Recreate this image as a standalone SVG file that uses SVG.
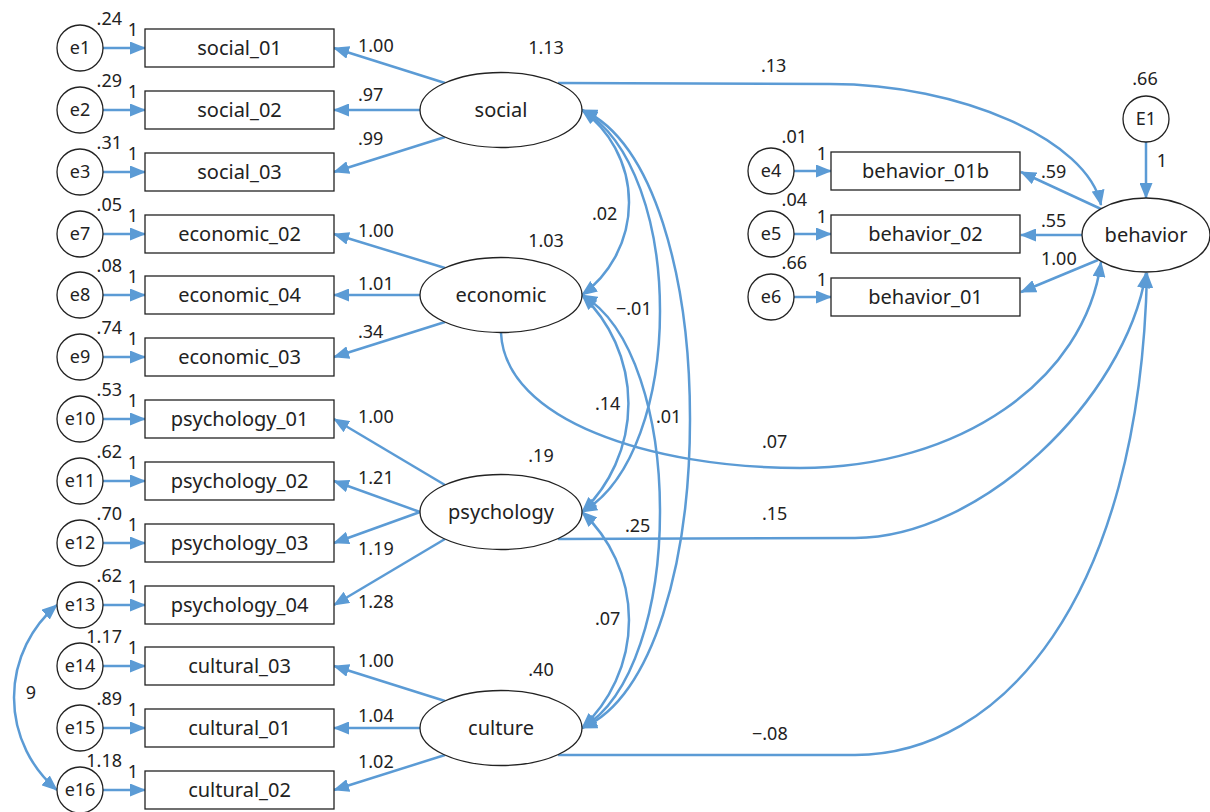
<svg xmlns="http://www.w3.org/2000/svg" width="1210" height="812" viewBox="0 0 1210 812">
<style>
text{font-family:"Noto Sans","Open Sans","Liberation Sans",sans-serif;fill:#222}
.n{font-size:20px;text-anchor:middle}
.c{font-size:18px;text-anchor:middle}
.l{font-size:18px}
.m{text-anchor:middle}
.r{text-anchor:end}
rect.o{fill:#fff;stroke:#222;stroke-width:1.3}
ellipse.v{fill:#fff;stroke:#222;stroke-width:1.3}
circle.v{fill:#fff;stroke:#222;stroke-width:1.3}
#connectors path{fill:none;stroke:#5B9BD5;stroke-width:2.5}
.a{marker-end:url(#ah)}
.d{marker-start:url(#ah);marker-end:url(#ah)}
</style>
<defs>
<marker id="ah" viewBox="0 0 16 13" refX="15" refY="6.5" markerWidth="16" markerHeight="13" markerUnits="userSpaceOnUse" orient="auto-start-reverse"><path d="M0,0 L16,6.5 L0,13 z" fill="#5B9BD5"/></marker>
</defs>
<rect width="1210" height="812" fill="#fff"/>

<g id="connectors">
<path class="a" d="M103,48 L145,48"/>
<path class="a" d="M103,110 L145,110"/>
<path class="a" d="M103,172 L145,172"/>
<path class="a" d="M103,234 L145,234"/>
<path class="a" d="M103,295 L145,295"/>
<path class="a" d="M103,357 L145,357"/>
<path class="a" d="M103,419 L145,419"/>
<path class="a" d="M103,481 L145,481"/>
<path class="a" d="M103,543 L145,543"/>
<path class="a" d="M103,605 L145,605"/>
<path class="a" d="M103,666 L145,666"/>
<path class="a" d="M103,728 L145,728"/>
<path class="a" d="M103,790 L145,790"/>
<path class="a" d="M445,83 L334,48"/>
<path class="a" d="M420,110 L334,110"/>
<path class="a" d="M445,137 L334,172"/>
<path class="a" d="M445,268 L334,234"/>
<path class="a" d="M420,295 L334,295"/>
<path class="a" d="M445,322 L334,357"/>
<path class="a" d="M445,485 L334,419"/>
<path class="a" d="M420,512 L334,481"/>
<path class="a" d="M420,512 L334,543"/>
<path class="a" d="M445,539 L334,605"/>
<path class="a" d="M445,701 L334,666"/>
<path class="a" d="M420,728 L334,728"/>
<path class="a" d="M445,755 L334,790"/>
<path class="d" d="M582,110 A114.5,114.5 0 0 1 582,295"/>
<path class="d" d="M582,110 C686,170 686,452 582,512"/>
<path class="d" d="M582,110 C726,170 726,668 582,728"/>
<path class="d" d="M582,295 A150,150 0 0 1 582,512"/>
<path class="d" d="M582,295 C686,355 686,668 582,728"/>
<path class="d" d="M582,512 A147.6,147.6 0 0 1 582,728"/>
<path class="d" d="M57,605 A121,121 0 0 0 57,790"/>
<path class="a" d="M558,83 L830,84 C960,84 1088,140 1101,205"/>
<path class="a" d="M501,333 C505,420 650,468 800,468 C960,468 1085,380 1101,262"/>
<path class="a" d="M558,539 L855,538 C980,538 1125,400 1146,273"/>
<path class="a" d="M558,755 L855,755 C1000,755 1140,600 1147,273"/>
<path class="a" d="M1146,142 L1146,198"/>
<path class="a" d="M794,171 L831,171"/>
<path class="a" d="M794,234 L831,234"/>
<path class="a" d="M794,297 L831,297"/>
<path class="a" d="M1101,209 L1021,172"/>
<path class="a" d="M1082,235 L1021,235"/>
<path class="a" d="M1098,260 L1021,292"/>
</g>

<g id="labels">
<text class="l" x="358" y="52">1.00</text>
<text class="l" x="358" y="101">.97</text>
<text class="l" x="358" y="145">.99</text>
<text class="l" x="358" y="237">1.00</text>
<text class="l" x="358" y="290">1.01</text>
<text class="l" x="358" y="338">.34</text>
<text class="l" x="358" y="423">1.00</text>
<text class="l" x="358" y="484">1.21</text>
<text class="l" x="358" y="555">1.19</text>
<text class="l" x="358" y="608">1.28</text>
<text class="l" x="358" y="667">1.00</text>
<text class="l" x="358" y="722">1.04</text>
<text class="l" x="358" y="768">1.02</text>
<text class="l" x="592" y="220">.02</text>
<text class="l" x="616" y="315">−.01</text>
<text class="l" x="595" y="410">.14</text>
<text class="l" x="656" y="423">.01</text>
<text class="l" x="625" y="532">.25</text>
<text class="l" x="595" y="625">.07</text>
<text class="l m" x="31" y="699">9</text>
<text class="l" x="761" y="72">.13</text>
<text class="l" x="762" y="448">.07</text>
<text class="l" x="762" y="520">.15</text>
<text class="l" x="752" y="740">−.08</text>
<text class="l" x="1041" y="178">.59</text>
<text class="l" x="1041" y="227">.55</text>
<text class="l" x="1041" y="265">1.00</text>
</g>

<g id="e1"><circle class="v" cx="80" cy="48" r="23"/><text class="c" x="80" y="54">e1</text><text class="l r" x="122" y="25">.24</text><text class="l m" x="133" y="36">1</text></g>
<g id="e2"><circle class="v" cx="80" cy="110" r="23"/><text class="c" x="80" y="116">e2</text><text class="l r" x="122" y="87">.29</text><text class="l m" x="133" y="98">1</text></g>
<g id="e3"><circle class="v" cx="80" cy="172" r="23"/><text class="c" x="80" y="178">e3</text><text class="l r" x="122" y="149">.31</text><text class="l m" x="133" y="160">1</text></g>
<g id="e7"><circle class="v" cx="80" cy="234" r="23"/><text class="c" x="80" y="240">e7</text><text class="l r" x="122" y="211">.05</text><text class="l m" x="133" y="222">1</text></g>
<g id="e8"><circle class="v" cx="80" cy="295" r="23"/><text class="c" x="80" y="301">e8</text><text class="l r" x="122" y="272">.08</text><text class="l m" x="133" y="283">1</text></g>
<g id="e9"><circle class="v" cx="80" cy="357" r="23"/><text class="c" x="80" y="363">e9</text><text class="l r" x="122" y="334">.74</text><text class="l m" x="133" y="345">1</text></g>
<g id="e10"><circle class="v" cx="80" cy="419" r="23"/><text class="c" x="80" y="425">e10</text><text class="l r" x="122" y="396">.53</text><text class="l m" x="133" y="407">1</text></g>
<g id="e11"><circle class="v" cx="80" cy="481" r="23"/><text class="c" x="80" y="487">e11</text><text class="l r" x="122" y="458">.62</text><text class="l m" x="133" y="469">1</text></g>
<g id="e12"><circle class="v" cx="80" cy="543" r="23"/><text class="c" x="80" y="549">e12</text><text class="l r" x="122" y="520">.70</text><text class="l m" x="133" y="531">1</text></g>
<g id="e13"><circle class="v" cx="80" cy="605" r="23"/><text class="c" x="80" y="611">e13</text><text class="l r" x="122" y="582">.62</text><text class="l m" x="133" y="593">1</text></g>
<g id="e14"><circle class="v" cx="80" cy="666" r="23"/><text class="c" x="80" y="672">e14</text><text class="l r" x="122" y="643">1.17</text><text class="l m" x="133" y="654">1</text></g>
<g id="e15"><circle class="v" cx="80" cy="728" r="23"/><text class="c" x="80" y="734">e15</text><text class="l r" x="122" y="705">.89</text><text class="l m" x="133" y="716">1</text></g>
<g id="e16"><circle class="v" cx="80" cy="790" r="23"/><text class="c" x="80" y="796">e16</text><text class="l r" x="122" y="767">1.18</text><text class="l m" x="133" y="778">1</text></g>

<g id="social_01"><rect class="o" x="145" y="29" width="189" height="38"/><text class="n" x="239.5" y="55">social_01</text></g>
<g id="social_02"><rect class="o" x="145" y="91" width="189" height="38"/><text class="n" x="239.5" y="117">social_02</text></g>
<g id="social_03"><rect class="o" x="145" y="153" width="189" height="38"/><text class="n" x="239.5" y="179">social_03</text></g>
<g id="economic_02"><rect class="o" x="145" y="215" width="189" height="38"/><text class="n" x="239.5" y="241">economic_02</text></g>
<g id="economic_04"><rect class="o" x="145" y="276" width="189" height="38"/><text class="n" x="239.5" y="302">economic_04</text></g>
<g id="economic_03"><rect class="o" x="145" y="338" width="189" height="38"/><text class="n" x="239.5" y="364">economic_03</text></g>
<g id="psychology_01"><rect class="o" x="145" y="400" width="189" height="38"/><text class="n" x="239.5" y="426">psychology_01</text></g>
<g id="psychology_02"><rect class="o" x="145" y="462" width="189" height="38"/><text class="n" x="239.5" y="488">psychology_02</text></g>
<g id="psychology_03"><rect class="o" x="145" y="524" width="189" height="38"/><text class="n" x="239.5" y="550">psychology_03</text></g>
<g id="psychology_04"><rect class="o" x="145" y="586" width="189" height="38"/><text class="n" x="239.5" y="612">psychology_04</text></g>
<g id="cultural_03"><rect class="o" x="145" y="647" width="189" height="38"/><text class="n" x="239.5" y="673">cultural_03</text></g>
<g id="cultural_01"><rect class="o" x="145" y="709" width="189" height="38"/><text class="n" x="239.5" y="735">cultural_01</text></g>
<g id="cultural_02"><rect class="o" x="145" y="771" width="189" height="38"/><text class="n" x="239.5" y="797">cultural_02</text></g>

<g id="social"><ellipse class="v" cx="501" cy="110" rx="81" ry="37.5"/><text class="n" x="501" y="117">social</text><text class="l m" x="546" y="54">1.13</text></g>
<g id="economic"><ellipse class="v" cx="501" cy="295" rx="81" ry="37.5"/><text class="n" x="501" y="302">economic</text><text class="l m" x="546" y="247">1.03</text></g>
<g id="psychology"><ellipse class="v" cx="501" cy="512" rx="81" ry="37.5"/><text class="n" x="501" y="519">psychology</text><text class="l m" x="541" y="462">.19</text></g>
<g id="culture"><ellipse class="v" cx="501" cy="728" rx="81" ry="37.5"/><text class="n" x="501" y="735">culture</text><text class="l m" x="541" y="676">.40</text></g>

<g id="e4"><circle class="v" cx="771" cy="171" r="23"/><text class="c" x="771" y="177">e4</text><text class="l r" x="807" y="143">.01</text><text class="l m" x="822" y="160">1</text></g>
<g id="e5"><circle class="v" cx="771" cy="234" r="23"/><text class="c" x="771" y="240">e5</text><text class="l r" x="807" y="206">.04</text><text class="l m" x="822" y="223">1</text></g>
<g id="e6"><circle class="v" cx="771" cy="297" r="23"/><text class="c" x="771" y="303">e6</text><text class="l r" x="807" y="269">.66</text><text class="l m" x="822" y="286">1</text></g>
<g id="behavior_01b"><rect class="o" x="831" y="152" width="189" height="38"/><text class="n" x="925.5" y="178">behavior_01b</text></g>
<g id="behavior_02"><rect class="o" x="831" y="215" width="189" height="38"/><text class="n" x="925.5" y="241">behavior_02</text></g>
<g id="behavior_01"><rect class="o" x="831" y="278" width="189" height="38"/><text class="n" x="925.5" y="304">behavior_01</text></g>
<g id="E1"><circle class="v" cx="1146" cy="119" r="23"/><text class="c" x="1146" y="125">E1</text><text class="l m" x="1145" y="85">.66</text><text class="l m" x="1162" y="167">1</text></g>
<g id="behavior"><ellipse class="v" cx="1146" cy="235" rx="64" ry="37"/><text class="n" x="1146" y="242">behavior</text></g>
</svg>
